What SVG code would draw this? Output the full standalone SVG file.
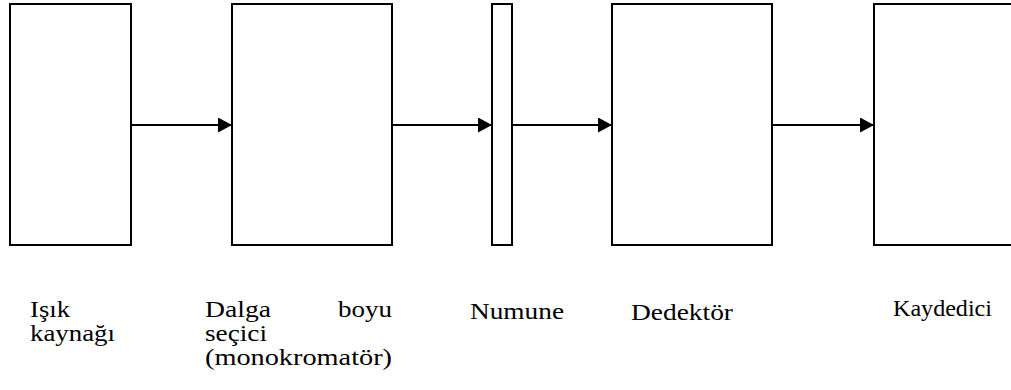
<svg xmlns="http://www.w3.org/2000/svg" width="1011" height="390" viewBox="0 0 1011 390">
<style>
.box{fill:#fff;stroke:#000;stroke-width:2}
.conn{stroke:#000;stroke-width:2;fill:none}
.lbl{font-family:'Liberation Serif','Times New Roman','DejaVu Serif',serif;font-size:24px;fill:#000}
</style>
<defs>
<marker id="ah" markerUnits="userSpaceOnUse" markerWidth="15" markerHeight="16" refX="14" refY="7.5" orient="auto">
<path d="M0,0 L14,7.5 L0,15 Z" fill="#000"/>
</marker>
</defs>
<rect width="1011" height="390" fill="#fff"/>
<g id="isik-kaynagi">
<rect class="box" x="10" y="4" width="121" height="241"/>
<text class="lbl" x="30" y="317" textLength="40" lengthAdjust="spacingAndGlyphs">Işık</text>
<text class="lbl" x="30" y="341" textLength="85" lengthAdjust="spacingAndGlyphs">kaynağı</text>
</g>
<g id="dalga-boyu-secici">
<rect class="box" x="232" y="4" width="160" height="241"/>
<text class="lbl" x="205" y="317" textLength="66" lengthAdjust="spacingAndGlyphs">Dalga</text>
<text class="lbl" x="338" y="317" textLength="54" lengthAdjust="spacingAndGlyphs">boyu</text>
<text class="lbl" x="205" y="341" textLength="62" lengthAdjust="spacingAndGlyphs">seçici</text>
<text class="lbl" x="205" y="365" textLength="187" lengthAdjust="spacingAndGlyphs">(monokromatör)</text>
</g>
<g id="numune">
<rect class="box" x="492" y="4" width="20" height="241"/>
<text class="lbl" x="470" y="319" textLength="94" lengthAdjust="spacingAndGlyphs">Numune</text>
</g>
<g id="dedektor">
<rect class="box" x="612" y="4" width="160" height="241"/>
<text class="lbl" x="631" y="320" textLength="102" lengthAdjust="spacingAndGlyphs">Dedektör</text>
</g>
<g id="kaydedici">
<rect class="box" x="874" y="4" width="160" height="241"/>
<text class="lbl" x="893" y="316" textLength="99" lengthAdjust="spacingAndGlyphs">Kaydedici</text>
</g>
<g id="connectors">
<line class="conn" x1="131" y1="125" x2="232" y2="125" marker-end="url(#ah)"/>
<line class="conn" x1="392" y1="125" x2="492" y2="125" marker-end="url(#ah)"/>
<line class="conn" x1="512" y1="125" x2="612" y2="125" marker-end="url(#ah)"/>
<line class="conn" x1="772" y1="125" x2="874" y2="125" marker-end="url(#ah)"/>
</g>
</svg>
